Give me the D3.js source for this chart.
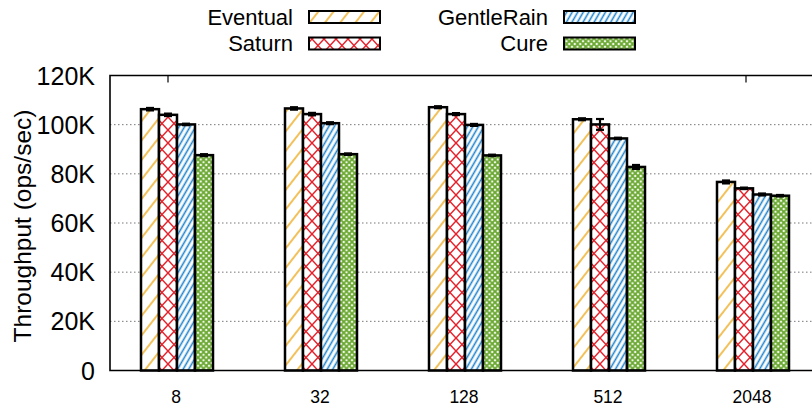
<!DOCTYPE html>
<html><head><meta charset="utf-8">
<script src="https://cdn.jsdelivr.net/npm/d3@7"></script>
<style>body{margin:0;background:#fff}svg{display:block}text{font-family:"Liberation Sans",Arial,sans-serif;fill:#000}</style>
</head><body><svg id="c" width="812" height="409"></svg>
<script>
const categories = ["8","32","128","512","2048"];
const seriesNames = ["Eventual","Saturn","GentleRain","Cure"];
const eventual   = [106.3,106.6,107.1,102.2,76.7];
const saturn     = [104.0,104.3,104.3,100.1,74.1];
const gentleRain = [100.1,100.6,99.9,94.4,71.6];
const cure       = [87.6,88.0,87.5,82.8,71.1];
const errEventual   = [0.5,0.5,0.4,0.4,0.6];
const errSaturn     = [0.5,0.5,0.4,2.2,0.3];
const errGentleRain = [0.3,0.4,0.4,0.3,0.4];
const errCure       = [0.4,0.3,0.3,0.8,0.3];
const yTicks = [0,20,40,60,80,100,120];
const yTickLabels = ["0","20K","40K","60K","80K","100K","120K"];
const topTickIdx = [0,4];

const values = [eventual,saturn,gentleRain,cure];
const errors = [errEventual,errSaturn,errGentleRain,errCure];
const colors = ["#f0ad22","#e8202a","#1f84cc","#6aa830"];

const svg = d3.select("#c");
const L=110, T=75.5, B=370.5, R=830;
const x = d3.scaleBand().domain(categories).range([105,825]).paddingInner(0.5).paddingOuter(0.25);
const xs = d3.scaleBand().domain(seriesNames).range([0,x.bandwidth()]);
const y = d3.scaleLinear().domain([0,120]).range([B,T]);

// patterns
const defs = svg.append("defs");
function linePat(id, w, ang, col, sw){
  const p = defs.append("pattern").attr("id",id).attr("patternUnits","userSpaceOnUse")
    .attr("width",w).attr("height",w).attr("patternTransform",`rotate(${ang})`);
  p.append("rect").attr("width",w).attr("height",w).attr("fill","#fff");
  p.append("line").attr("x1",w/2).attr("x2",w/2).attr("y1",0).attr("y2",w).attr("stroke",col).attr("stroke-width",sw);
}
function crossPat(id, w, h, col, sw){
  const p = defs.append("pattern").attr("id",id).attr("patternUnits","userSpaceOnUse")
    .attr("width",w).attr("height",h);
  p.append("rect").attr("width",w).attr("height",h).attr("fill","#fff");
  p.append("path").attr("d",`M0,0L${w},${h}M${w},0L0,${h}`).attr("stroke",col).attr("stroke-width",sw).attr("fill","none");
}
linePat("p0",12,38,colors[0],1.5);
crossPat("p1",12,13,colors[1],1.5);
linePat("p2",4.8,30,colors[2],1.6);
crossPat("p3",5.5,5.5,colors[3],1.8);

// grid
svg.append("g").selectAll("line").data(yTicks.filter(v=>v>0&&v<120)).join("line")
  .attr("x1",L).attr("x2",812).attr("y1",d=>y(d)).attr("y2",d=>y(d))
  .attr("stroke","#777").attr("stroke-width",1).attr("stroke-dasharray","1.5,2.5");

// y labels
svg.append("g").selectAll("text").data(yTicks).join("text")
  .attr("x",95).attr("y",d=>y(d)).attr("text-anchor","end").attr("dy","0.36em")
  .style("font-size","25px").text((d,i)=>yTickLabels[i]);

// bars
const g = svg.append("g");
categories.forEach((c,ci)=>{
  seriesNames.forEach((s,si)=>{
    const x0 = x(c)+xs(s), v = values[si][ci];
    g.append("rect").attr("x",x0).attr("y",y(v)).attr("width",xs.bandwidth()).attr("height",B-y(v))
      .attr("fill",`url(#p${si})`).attr("stroke","#000").attr("stroke-width",2.5);
  });
});
// error bars
categories.forEach((c,ci)=>{
  seriesNames.forEach((s,si)=>{
    const cx = x(c)+xs(s)+xs.bandwidth()/2, v = values[si][ci], e = errors[si][ci];
    const eg = g.append("g").attr("stroke","#000").attr("stroke-width",2.2);
    eg.append("line").attr("x1",cx).attr("x2",cx).attr("y1",y(v+e)).attr("y2",y(v-e));
    eg.append("line").attr("x1",cx-4).attr("x2",cx+4).attr("y1",y(v+e)).attr("y2",y(v+e));
    eg.append("line").attr("x1",cx-4).attr("x2",cx+4).attr("y1",y(v-e)).attr("y2",y(v-e));
  });
});

// frame
svg.append("path").attr("d",`M${R},${T}H${L}V${B}H${R}`).attr("fill","none").attr("stroke","#000").attr("stroke-width",1.6);
// top ticks
const xt = d3.scaleLinear().domain([0,4]).range([168,746]);
svg.append("g").selectAll("line").data(topTickIdx).join("line")
  .attr("x1",d=>xt(d)).attr("x2",d=>xt(d)).attr("y1",T).attr("y2",T+7).attr("stroke","#000").attr("stroke-width",1.2);

// x labels
svg.append("g").selectAll("text").data(categories).join("text")
  .attr("x",d=>x(d)+x.bandwidth()/2-1).attr("y",403).attr("text-anchor","middle")
  .style("font-size","17.5px").text(d=>d);

// y title
svg.append("text").attr("transform","translate(31,226) rotate(-90)").attr("text-anchor","middle")
  .style("font-size","24.5px").text("Throughput (ops/sec)");

// legend
const legPos = [[293,17],[293,43.5],[548,17],[548,43.5]];
seriesNames.forEach((s,i)=>{
  const [tx,ty] = legPos[i];
  svg.append("text").attr("x",tx).attr("y",ty).attr("dy","0.36em").attr("text-anchor","end")
    .style("font-size","22px").text(s);
  svg.append("rect").attr("x",tx+16).attr("y",ty-6).attr("width",71).attr("height",12)
    .attr("fill",`url(#p${i})`).attr("stroke","#000").attr("stroke-width",2);
});
</script></body></html>
